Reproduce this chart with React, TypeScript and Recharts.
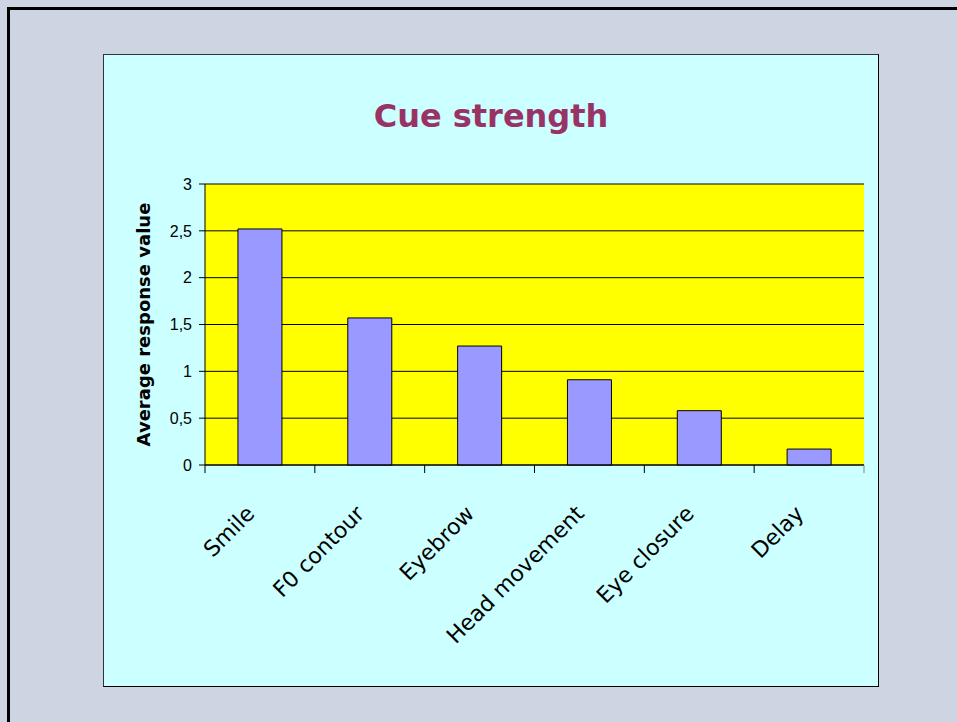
import React from 'react';
import { BarChart, Bar, XAxis, YAxis, CartesianGrid } from 'recharts';

const categories = ['Smile', 'F0 contour', 'Eyebrow', 'Head movement', 'Eye closure', 'Delay'];
const responseValues = [2.52, 1.57, 1.27, 0.91, 0.58, 0.17];
const yTicks = [0, 0.5, 1, 1.5, 2, 2.5, 3];

const data = categories.map((name, i) => ({ name, value: responseValues[i] }));

const comic = "'Comic Sans MS', 'DejaVu Sans', sans-serif";
const arial = "Arial, 'Liberation Sans', sans-serif";

// decimal comma, as in the source sheet
const fmt = (v: number) => String(v).replace('.', ',');

// rotated label plus tick marks on the category boundaries
const CategoryTick = (props: any) => {
  const { x, y, payload, index, visibleTicksCount } = props;
  const half = payload && payload.offset ? payload.offset : 0;
  const px = x - 4;
  const py = y + 50;
  const last = index === visibleTicksCount - 1;
  return (
    <g>
      {half > 0 && <line x1={x - half} x2={x - half} y1={y} y2={y + 8} stroke="#000" />}
      {half > 0 && last && <line x1={x + half} x2={x + half} y1={y} y2={y + 8} stroke="#808080" />}
      <text
        x={px}
        y={py}
        transform={`rotate(-45, ${px}, ${py})`}
        textAnchor="end"
        fontFamily={comic}
        fontSize={22}
        fill="#000"
      >
        {payload.value}
      </text>
    </g>
  );
};

const AxisTitle = (props: any) => {
  const { viewBox } = props;
  const cx = viewBox.x - 2;
  const cy = viewBox.y + viewBox.height / 2;
  return (
    <text
      x={cx}
      y={cy}
      transform={`rotate(-90, ${cx}, ${cy})`}
      textAnchor="middle"
      dominantBaseline="central"
      fontFamily={comic}
      fontWeight="bold"
      fontSize={18}
      fill="#000"
    >
      Average response value
    </text>
  );
};

const App: React.FC = () => {
  return (
    <div
      style={{
        position: 'absolute',
        left: 0,
        top: 0,
        width: 957,
        height: 722,
        overflow: 'hidden',
        background: '#cdd5e3',
      }}
    >
      <div
        style={{
          position: 'absolute',
          left: 7,
          top: 7,
          width: 980,
          height: 740,
          borderLeft: '3px solid #000',
          borderTop: '3px solid #000',
        }}
      />
      <div
        style={{
          position: 'absolute',
          left: 103,
          top: 54,
          width: 776,
          height: 633,
          boxSizing: 'border-box',
          background: '#ccffff',
          border: '1px solid #000',
          borderLeftColor: '#333',
          borderTopColor: '#333',
        }}
      >
        <div
          style={{
            position: 'absolute',
            left: 0,
            right: 0,
            top: 42,
            textAlign: 'center',
            fontFamily: comic,
            fontWeight: 'bold',
            fontSize: 32,
            lineHeight: '38px',
            color: '#993366',
          }}
        >
          Cue strength
        </div>
        <div style={{ position: 'absolute', left: 0, top: 0 }}>
          <BarChart
            width={774}
            height={631}
            data={data}
            margin={{ top: 129, right: 14, left: 41, bottom: 21 }}
            barCategoryGap="30%"
          >
            <CartesianGrid
              vertical={false}
              stroke="#000"
              fill="#ffff00"
              fillOpacity={1}
            />
            <XAxis
              dataKey="name"
              tick={<CategoryTick />}
              tickLine={false}
              tickSize={0}
              tickMargin={0}
              axisLine={{ stroke: '#000' }}
              interval={0}
              height={200}
            />
            <YAxis
              domain={[0, 3]}
              ticks={yTicks}
              tickFormatter={fmt}
              width={60}
              tickSize={6}
              tickMargin={7}
              axisLine={{ stroke: '#000' }}
              tickLine={{ stroke: '#000' }}
              tick={{ fill: '#000', fontFamily: arial, fontSize: 16 }}
              label={<AxisTitle />}
            />
            <YAxis
              yAxisId="edge"
              orientation="right"
              domain={[0, 3]}
              width={0}
              tick={false}
              tickLine={false}
              axisLine={{ stroke: '#808080' }}
            />
            <Bar
              dataKey="value"
              fill="#9999ff"
              stroke="#000"
              strokeWidth={1}
              isAnimationActive={false}
            />
          </BarChart>
        </div>
      </div>
    </div>
  );
};

export default App;
